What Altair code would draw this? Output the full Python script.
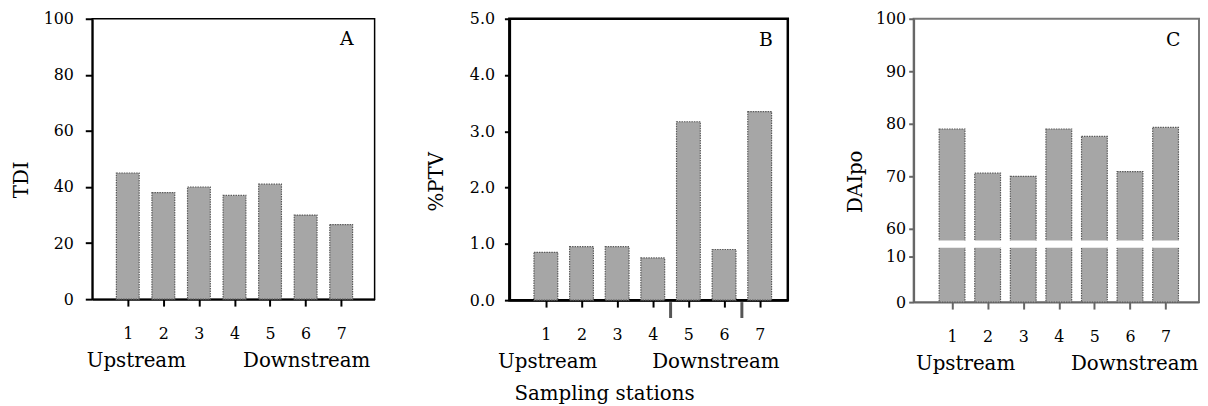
import altair as alt
import pandas as pd

# ---------------- data ----------------
stations = [1, 2, 3, 4, 5, 6, 7]
tdi = [45.0, 38.0, 40.0, 37.0, 41.0, 30.0, 26.6]
ptv = [0.85, 0.95, 0.95, 0.75, 3.17, 0.90, 3.35]
daipo = [79.0, 70.6, 70.0, 79.0, 77.6, 70.9, 79.3]
station_labels = ["Upstream", "Downstream"]
panel_letters = ["A", "B", "C"]
y_titles = ["TDI", "%PTV", "DAIpo"]
x_title = "Sampling stations"
arrow_stations = [4.5, 6.5]
tdi_ticks = [0, 20, 40, 60, 80, 100]
ptv_ticks = [0, 1, 2, 3, 4, 5]
daipo_ticks = [0, 10, 60, 70, 80, 90, 100]
daipo_break = [26, 39]

FONT = "DejaVu Serif"
WEIGHT = "normal"
BAR_FILL = "#a6a6a6"
BAR_STROKE = "#5a5a5a"


def xenc(field, xdomain, axis_color):
    return alt.X(
        f"{field}:Q",
        scale=alt.Scale(domain=xdomain, nice=False, zero=False),
        axis=alt.Axis(values=stations, format="d", title=None, grid=False,
                      labelFont=FONT, labelFontSize=16, labelColor="black",
                      labelFontWeight=WEIGHT,
                      domainColor=axis_color, domainWidth=2,
                      tickColor=axis_color, tickWidth=2, tickSize=7,
                      labelPadding=20),
    )


def pins(left, right):
    """Invisible layout anchors that fix each panel's bounding box."""
    out = []
    for xv in [v for v in (left, right) if v is not None]:
        d = pd.DataFrame({"k": [0]})
        out.append(alt.Chart(d).mark_rule(strokeOpacity=0, opacity=0).encode(
            x=alt.value(xv), y=alt.value(-10), y2=alt.value(-9)))
    return out


def panel(values, letter, width, height, xdomain, yscale, yaxis, label_pos,
          letter_dx, letter_dy, bar_w, view_stroke, view_sw, axis_color,
          pin_left, pin_right, extra=None):
    df = pd.DataFrame({"station": stations, "value": values})
    y = alt.Y("value:Q", scale=yscale, axis=yaxis)
    bars = alt.Chart(df).mark_bar(
        width=bar_w, fill=BAR_FILL, stroke=BAR_STROKE, strokeWidth=1.2,
        strokeDash=[1.5, 1]
    ).encode(x=xenc("station", xdomain, axis_color), y=y)

    letter_df = pd.DataFrame({"t": [letter]})
    letter_txt = alt.Chart(letter_df).mark_text(
        font=FONT, fontSize=19, fontWeight=WEIGHT, color="black",
        align="center", baseline="middle"
    ).encode(x=alt.value(width - letter_dx), y=alt.value(letter_dy), text="t:N")

    lab_df = pd.DataFrame({"pos": label_pos, "t": station_labels})
    lab_txt = alt.Chart(lab_df).mark_text(
        font=FONT, fontSize=20, fontWeight=WEIGHT, color="black",
        align="center", baseline="middle"
    ).encode(x=xenc("pos", xdomain, axis_color), y=alt.value(height + 62), text="t:N")

    layers = [bars, letter_txt, lab_txt]
    if extra is not None:
        layers += extra(y)
    layers += pins(pin_left, pin_right)
    return alt.layer(*layers).properties(
        width=width, height=height,
        view=alt.ViewBackground(stroke=view_stroke, strokeWidth=view_sw, fill="white"),
    )


def yaxis(ticks, title, fmt, tpad, ty, dcolor, dwidth, tsize, lpad):
    return alt.Axis(values=ticks, format=fmt, title=title, grid=False,
                    labelFont=FONT, labelFontSize=16, labelColor="black",
                    labelFontWeight=WEIGHT,
                    titleFont=FONT, titleFontSize=20, titleFontWeight=WEIGHT,
                    titleColor="black", titlePadding=tpad, titleY=ty,
                    domainColor=dcolor, domainWidth=dwidth, tickColor=dcolor,
                    tickWidth=2, tickSize=tsize, labelPadding=lpad)


# Panel A
axisA = yaxis(tdi_ticks, y_titles[0], "d", 12, 162, "black", 2, 7, 12)
A = panel(tdi, panel_letters[0], 285, 283, [0.14, 7.8],
          alt.Scale(domain=[0, 100], nice=False), axisA, [1.24, 6.03],
          28, 20, 23, "black", 1.5, "black", -84, 285 + 10)

# Panel B
axisB = yaxis(ptv_ticks, y_titles[1], ".1f", 23, 164, "black", 2.5, 5, 10)


def extraB(y):
    arr_df = pd.DataFrame({"pos": arrow_stations})
    arrows = alt.Chart(arr_df).mark_rule(color="#555555", strokeWidth=3).encode(
        x=xenc("pos", [0.115, 7.65], "black"),
        y=alt.value(284 + 2), y2=alt.value(284 + 18))
    t_df = pd.DataFrame({"t": [x_title]})
    title = alt.Chart(t_df).mark_text(
        font=FONT, fontSize=20, fontWeight=WEIGHT, color="black",
        align="center", baseline="middle"
    ).encode(x=alt.value(96), y=alt.value(284 + 95), text="t:N")
    return [arrows, title]


B = panel(ptv, panel_letters[1], 281, 284, [0.115, 7.65],
          alt.Scale(domain=[0, 5], nice=False), axisB, [1.05, 5.77],
          22, 22, 24, "black", 2.5, "black", -100, 281 + 10, extra=extraB)

# Panel C (broken axis)
scaleC = alt.Scale(domain=[0, 10, 60, 100], range=[286, 240, 212, 0], nice=False, zero=False)
axisC = yaxis(daipo_ticks, y_titles[2], "d", 10, 164, "#666666", 2, 5, 3)


def extraC(y):
    band_df = pd.DataFrame({"x0": [0.15], "x1": [7.9],
                            "y0": [daipo_break[0]], "y1": [daipo_break[1]]})
    band = alt.Chart(band_df).mark_rect(fill="white").encode(
        x=xenc("x0", [0.06, 7.8], "#666666"), x2="x1:Q",
        y=alt.Y("y0:Q", scale=scaleC, axis=axisC), y2="y1:Q")
    return [band]


C = panel(daipo, panel_letters[2], 288, 286, [0.06, 7.8], scaleC,
          axisC, [1.38, 6.13], 26, 22, 26, "#777777", 2, "#666666",
          -91, None, extra=extraC)

chart = alt.hconcat(A, B, C, spacing=23).properties(
    padding={"left": 0, "top": -3, "right": 0, "bottom": 0}
).configure(font=FONT)

chart.save("out.html", embed_options={"renderer": "svg", "actions": False})
